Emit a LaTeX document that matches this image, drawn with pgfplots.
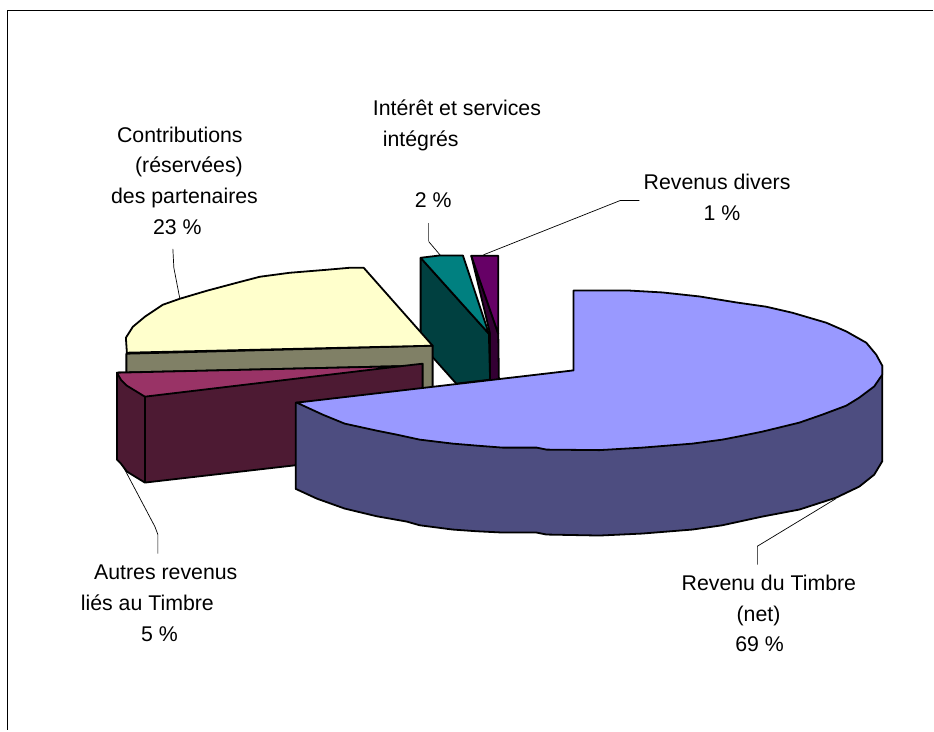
\documentclass[border=0pt]{standalone}
\usepackage{pgfplots}
\pgfplotsset{compat=1.18}
\usepackage{fontspec}
\setmainfont{Liberation Sans}
\definecolor{bluetop}{HTML}{9999FF}
\definecolor{blueside}{HTML}{4D4D80}
\definecolor{yellowtop}{HTML}{FFFFCC}
\definecolor{olive}{HTML}{808066}
\definecolor{maroontop}{HTML}{993366}
\definecolor{maroonside}{HTML}{4D1A33}
\definecolor{tealtop}{HTML}{008080}
\definecolor{tealside}{HTML}{004040}
\definecolor{purpletop}{HTML}{660066}
\definecolor{purpleside}{HTML}{330033}
\tikzset{lab/.style={anchor=base west,inner sep=0pt,text=black,font=\fontsize{21.4}{25}\selectfont}}
\begin{document}
\begin{tikzpicture}
\begin{axis}[hide axis,scale only axis,width=934bp,height=731bp,clip=false,
  xmin=0,xmax=934,ymin=0,ymax=731,y dir=reverse,
  every axis plot/.append style={line join=round}]
% page extent
\addplot[draw=none] coordinates {(0,0) (934,731)};
% frame
\addplot[black,line width=1.6bp] coordinates {(934,10.5) (7.5,10.5) (7.5,731)};
% leaders
\addplot[black,line width=0.7bp] coordinates {(484,255) (620.7,200.7) (640,200.7)};
\addplot[black!60,line width=0.8bp] coordinates {(429,223) (429,241.7)};
\addplot[black,line width=0.7bp] coordinates {(429,241.7) (440.7,255.5)};
\addplot[black,line width=0.7bp] coordinates {(173,249) (174,268) (180,299)};
\addplot[black,line width=0.7bp] coordinates {(121.7,464) (155,527) (158,535) (158,554)};
\addplot[black,line width=0.7bp] coordinates {(836.7,499) (758,546.7) (758,565)};
% teal wedge
\addplot[fill=tealside,draw=black,line width=1.8bp] coordinates {(421,258) (489.3,334) (490.5,380) (456.7,384) (421,344)} --cycle;
\addplot[fill=tealtop,draw=black,line width=1.8bp] coordinates {(421,258) (440,255.7) (463.3,255.7) (489.3,334)} --cycle;
% purple wedge
\addplot[fill=purpleside,draw=black,line width=1.8bp] coordinates {(471.7,256) (498.7,334) (499.3,380) (490.5,381) (490.5,334)} --cycle;
\addplot[fill=purpletop,draw=black,line width=1.8bp] coordinates {(471.7,256) (498.7,256) (498.7,334)} --cycle;
% yellow wedge
\addplot[fill=olive,draw=black,line width=1.8bp] coordinates {(126.5,354) (433,346) (433,392) (126.5,392)} --cycle;
\addplot[fill=yellowtop,draw=black,line width=1.8bp] coordinates {(127,353) (126,338) (133,327) (145,317) (163,305) (180,299) (207,291) (237,283) (260,277) (290,273) (327,270) (350,268) (364,268) (433,346)} --cycle;
% maroon wedge
\addplot[fill=maroonside,draw=black,line width=1.8bp] coordinates {(117,373) (401,366.5) (423,364) (423,451) (145,483) (127,472) (121,464) (117,460)} --cycle;
\addplot[fill=maroontop,draw=black,line width=1.8bp] coordinates {(117,373) (401,366.5) (145,397) (127,386) (121,380)} --cycle;
\addplot[draw=black,line width=1.8bp] coordinates {(145,397) (145,483)};
% blue wedge
\addplot[fill=blueside,draw=black,line width=1.8bp] coordinates {(883,366) (883,461.7) (875,475) (860,487) (837,498) (800,510) (763,517) (740,522) (723,525.7) (693,530) (643,534) (600,536) (547,535) (537,533) (503,533) (477,531.7) (453,530) (420,525.7) (407,522) (377,516.7) (345,509) (317,499) (296,489.3) (296,403)} --cycle;
\addplot[fill=bluetop,draw=black,line width=1.8bp] coordinates {(574,370.7) (574,290.7) (628,290.7) (663,292.7) (700,296.7) (737,302.7) (767,307) (793,313) (827,323) (847,331.7) (867,343) (877,355) (883,366) (883,375) (875,386.7) (860,398) (847,406) (823,415) (800,423) (763,432) (740,436.7) (723,440) (693,444) (643,448) (600,450.5) (547,450) (537,448) (503,448) (477,446) (453,444) (420,440) (397,435) (377,431) (345,424) (323,415) (297,403)} --cycle;
% labels
\node[lab] at (axis cs:117,142.7) {Contributions};
\node[lab] at (axis cs:135,173) {(réservées)};
\node[lab] at (axis cs:111,204) {des partenaires};
\node[lab] at (axis cs:153,235) {23 \%};
\node[lab] at (axis cs:373,116) {Intérêt et services};
\node[lab] at (axis cs:383,146.7) {intégrés};
\node[lab] at (axis cs:415,208) {2 \%};
\node[lab] at (axis cs:644,190) {Revenus divers};
\node[lab] at (axis cs:704,220.7) {1 \%};
\node[lab] at (axis cs:94,580) {Autres revenus};
\node[lab] at (axis cs:80.7,611) {liés au Timbre};
\node[lab] at (axis cs:141,642) {5 \%};
\node[lab] at (axis cs:682,591) {Revenu du Timbre};
\node[lab] at (axis cs:737,622) {(net)};
\node[lab] at (axis cs:735.7,652) {69 \%};
\end{axis}
\end{tikzpicture}
\end{document}
